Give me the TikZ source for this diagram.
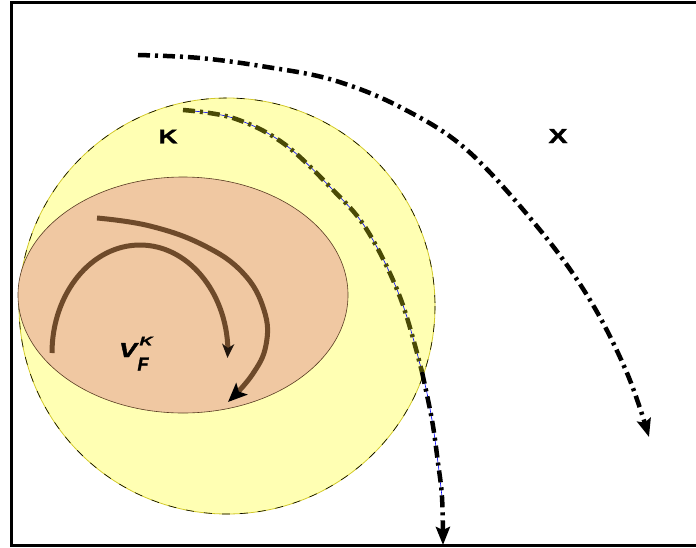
\documentclass[tikz,border=0pt]{standalone}
\usepackage{fontspec}
\usepackage{graphicx}
\setmainfont{Liberation Sans}
\newfontfamily\heavysans[FakeBold=1.5]{Liberation Sans}
\usetikzlibrary{arrows.meta}
\definecolor{kyellow}{HTML}{FFFFB3}
\definecolor{vorange}{HTML}{F0C8A2}
\definecolor{vbrown}{HTML}{6E4A2A}
\definecolor{olivedark}{HTML}{4A4A05}
\tikzset{
  frameline/.style={line width=3pt},
  ddot/.style={line width=4.5pt, dash pattern=on 12pt off 5pt on 3pt off 5pt},
  brownarrow/.style={vbrown, line width=5pt},
  lbl/.style={inner sep=0pt}
}
\begin{document}
\begin{tikzpicture}[x=1pt,y=-1pt]
\useasboundingbox (0,0) rectangle (696,547);
% frame
\draw[frameline] (696,2.5) -- (11,2.5) -- (11,545) -- (696,545);
% K set
\fill[kyellow] (227,306) circle (208);
\draw[yellow!80!black, line width=0.8pt] (227,306) circle (208);
\draw[black, line width=0.6pt, dash pattern=on 8pt off 10pt] (227,306) circle (208);
% V_F^K ellipse
\filldraw[fill=vorange, draw=vbrown!80!black, line width=0.6pt] (183,295) ellipse (165 and 118);
% brown arrows
\draw[brownarrow, -{Stealth[length=14pt,width=12pt,inset=4pt,black!70!vbrown]}]
  (52,353) arc[start angle=180, end angle=358, x radius=88, y radius=108] -- (227.5,358);
\draw[brownarrow, -{Stealth[length=19pt,width=16pt,inset=4pt,black]}]
  plot[smooth, tension=0.7] coordinates {(97,218) (150,226) (203,245) (243,273) (264,310) (266,345) (252,375) (228,402)};
% inner dash-dot curve
\draw[blue, line width=0.6pt] plot[smooth, tension=0.6] coordinates {(183,110) (233,118) (283,143) (333,190) (367,230) (400,297) (422,372) (432,420) (438,463) (442,497)};
\draw[ddot, olivedark] plot[smooth, tension=0.6] coordinates {(183,110) (233,118) (283,143) (333,190) (367,230) (400,297) (422,372)};
\draw[ddot, black, -{Stealth[length=18pt,width=14pt,inset=3pt]}] plot[smooth, tension=0.6] coordinates {(422,372) (432,420) (438,463) (442,497) (443,545)};
% outer dash-dot curve
\draw[ddot, black, -{Stealth[length=18pt,width=14pt,inset=3pt]}] plot[smooth, tension=0.6] coordinates {(138,55) (200,58) (267,67) (333,80) (400,107) (467,150) (540,230) (590,300) (627,373) (649,437)};
% labels
\node[lbl] (K) at (168,136.5) {\resizebox{19pt}{13.5pt}{\heavysans\bfseries K}};
\node[lbl] (X) at (558,136) {\resizebox{19pt}{14pt}{\heavysans\bfseries X}};
\node[lbl] (V) at (128,350) {\resizebox{18pt}{14pt}{\heavysans\bfseries\itshape V}};
\node[lbl] (Vsup) at (146,341) {\resizebox{13pt}{8.5pt}{\heavysans\bfseries\itshape K}};
\node[lbl] (Vsub) at (143,364) {\resizebox{11pt}{13pt}{\heavysans\bfseries\itshape F}};
\end{tikzpicture}
\end{document}
